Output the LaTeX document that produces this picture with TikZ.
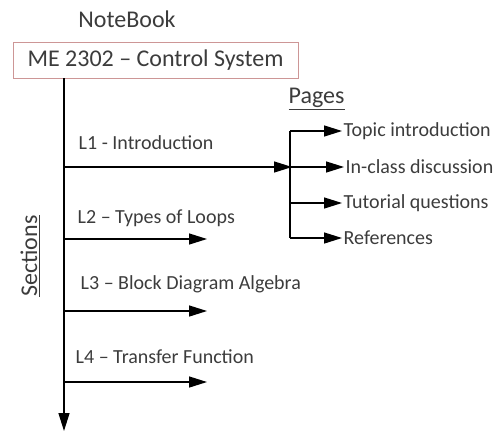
\documentclass[tikz,border=0pt]{standalone}
\usepackage{fontspec}
\setmainfont{Carlito}
\usetikzlibrary{arrows.meta}
\definecolor{txt}{RGB}{60,60,60}
\definecolor{boxred}{RGB}{205,150,150}
\begin{document}
\begin{tikzpicture}[x=1pt,y=-1pt, line width=1.4pt,
  arr/.style={-{Triangle[length=18pt,width=11pt]}},
  big/.style={font=\fontsize{24}{28}\selectfont, text=txt, inner sep=0pt},
  lbl/.style={font=\fontsize{20}{24}\selectfont, text=txt, inner sep=0pt, anchor=west},
  pg/.style={lbl, inner sep=1pt}]
\useasboundingbox (0,0) rectangle (493,432);
\node[big] (nb) at (127,19) {NoteBook};
\node[big, draw=boxred, line width=0.9pt, minimum width=285pt, minimum height=36pt] (box) at (155.5,60) {ME 2302 -- Control System};
\coordinate (spineend) at (64,431);
\draw[arr] (box.south -| spineend) -- (spineend);
\node[big, rotate=90] (sec) at (30,256) {\underline{Sections}};
\node[big, anchor=west] (pages) at (288,99) {\underline{Pages}};
% L1
\node[lbl] (l1) at (78,143) {L1 - Introduction};
\coordinate (l1s) at (64,167);
\coordinate (bm) at (292,167);
\draw[arr] (l1s) -- (bm);
\coordinate (bt) at (290,131);
\coordinate (bb) at (290,238);
\draw (bt) -- (bb);
\node[pg] (p1) at (342,131) {Topic introduction};
\node[pg] (p2) at (344,167) {In-class discussion};
\node[pg] (p3) at (342,203) {Tutorial questions};
\node[pg] (p4) at (342,238) {References};
\draw[arr] (bt) -- (p1.west);
\draw[arr] (290,167) -- (p2.west);
\draw[arr] (290,203) -- (p3.west);
\draw[arr] (bb) -- (p4.west);
% L2-L4
\node[lbl] (l2) at (77,218) {L2 -- Types of Loops};
\node[lbl] (l3) at (80,284) {L3 -- Block Diagram Algebra};
\node[lbl] (l4) at (75,357) {L4 -- Transfer Function};
\coordinate (a2s) at (64,239); \coordinate (a2e) at (207,239);
\coordinate (a3s) at (64,311); \coordinate (a3e) at (207,311);
\coordinate (a4s) at (64,382); \coordinate (a4e) at (207,382);
\draw[arr] (a2s) -- (a2e);
\draw[arr] (a3s) -- (a3e);
\draw[arr] (a4s) -- (a4e);
\end{tikzpicture}
\end{document}
